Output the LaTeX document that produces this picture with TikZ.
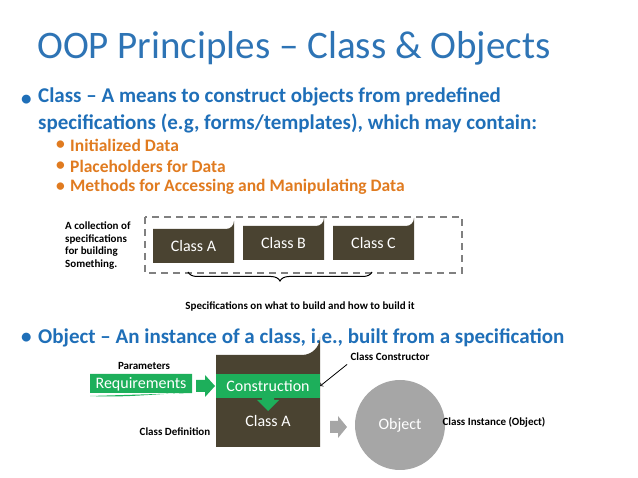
\documentclass[tikz,border=0pt]{standalone}
\usepackage{fontspec}
\setmainfont{Carlito}
\usetikzlibrary{decorations.pathreplacing}
\definecolor{titleblue}{HTML}{2E74B5}
\definecolor{textblue}{HTML}{1F6FB8}
\definecolor{subor}{HTML}{E07B20}
\definecolor{olive}{HTML}{4A4331}
\definecolor{grn}{HTML}{1DAF5B}
\definecolor{objgray}{HTML}{A6A6A6}
\tikzset{
  classtext/.style = {text=white, font=\fontsize{16}{18}\selectfont},
  note/.style     = {font=\fontsize{11}{12.5}\selectfont\bfseries, align=left},
  bullet/.style   = {anchor=west, text=textblue, align=left,
                     font=\fontsize{21}{27}\selectfont\bfseries},
  subitem/.style  = {anchor=west, text=subor,
                     font=\fontsize{17.5}{20}\selectfont\bfseries}
}
\begin{document}
\begin{tikzpicture}[x=1pt,y=-1pt]
 \useasboundingbox (0,0) rectangle (638,478);
 \node[anchor=west, text=titleblue, font=\fontsize{39}{44}\selectfont, inner sep=0pt] (title) at (37,48) {OOP Principles – Class \& Objects};

 \node[bullet, inner sep=0pt] (dot1) at (21,100) {•};
 \node[bullet, anchor=north west, inner sep=0pt] (cls) at (38,88) {Class – A means to construct objects from predefined\\specifications (e.g, forms/templates), which may contain:};
 \foreach \y/\t [count=\i] in {145/Initialized Data, 166/Placeholders for Data, 187/Methods for Accessing and Manipulating Data} {
   \node[subitem, inner sep=0pt] (sd\i) at (56,\y) {•};
   \node[subitem, inner sep=0pt] (si\i) at (70,\y) {\t};
 }

 % collection of classes
 \node[note, anchor=north west, inner sep=0pt] (coll) at (65,222) {A collection of\\specifications\\for building\\Something.};
 \draw[gray, dash pattern=on 7pt off 5pt, line width=1.3pt] (145,217) rectangle (462,273);
 \foreach \n/\x/\y/\t in {ca/153/229/Class A, cb/243/226/Class B, cc/333/226/Class C} {
   \fill[olive] (\x,\y+34) -- (\x,\y) -- (\x+73,\y) arc[start angle=90, end angle=0, radius=8] -- (\x+81,\y+34) -- cycle;
   \node[classtext] (\n) at (\x+40.5,\y+17) {\t};
 }
 \coordinate (bl) at (188,272);
 \coordinate (br) at (372,272);
 \draw[decorate, decoration={brace, mirror, amplitude=9pt}, line width=1pt] (bl) -- (br);
 \node[note] (spec) at (300,306) {Specifications on what to build and how to build it};

 \node[bullet, inner sep=0pt] (dot2) at (21,338) {•};
 \node[bullet, inner sep=0pt] (obj) at (38,338) {Object – An instance of a class, i.e., built from a specification};

 % object construction
 \node[note] (param) at (144,366) {Parameters};
 \fill[olive] (216,447) -- (216,355) -- (302,355) arc[start angle=90, end angle=0, radius=18] -- (320,447) -- cycle;
 \node[fill=grn, classtext, minimum width=104pt, minimum height=24pt] (cons) at (268,386) {Construction};
 \fill[grn] (90,374) rectangle (192,393) .. controls (160,393) and (130,398) .. (90,396) -- cycle;
 \node[classtext] (req) at (141,384.5) {Requirements};
 \fill[grn] (196,380) -- (205,380) -- (205,375) -- (215,386) -- (205,397) -- (205,392) -- (196,392) -- cycle;
 \fill[grn] (262,397) -- (274,397) -- (274,400) -- (279,400) -- (268,411) -- (257,400) -- (262,400) -- cycle;
 \node[classtext] (clsA) at (268,421) {Class A};
 \node[note] (cdef) at (175,432) {Class Definition};
 \node[note] (cctor) at (390,357) {Class Constructor};
 \draw[->, thick] (cctor.south west) -- (cons.east);
 \node[circle, fill=objgray, text=white, minimum size=90pt, font=\fontsize{16}{18}\selectfont] (object) at (400,425) {Object};
 \fill[objgray] (330,421) -- (338,421) -- (338,416) -- (347,427) -- (338,438) -- (338,433) -- (330,433) -- cycle;
 \node[note] (inst) at (494,422) {Class Instance (Object)};
\end{tikzpicture}
\end{document}
